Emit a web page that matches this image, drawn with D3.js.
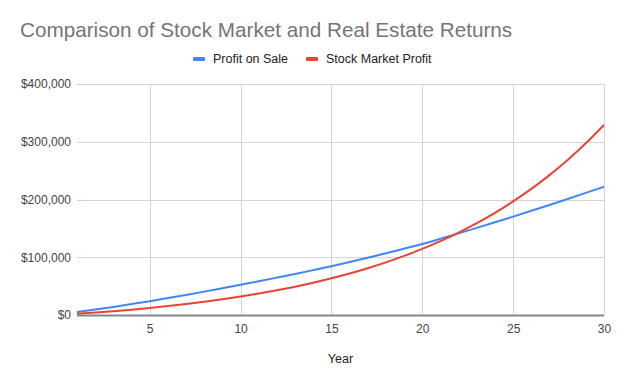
<!doctype html>
<html>
<head>
<meta charset="utf-8"/>
<style>
  html, body { margin: 0; padding: 0; background: #fff; }
  svg { display: block; font-family: "Liberation Sans", Arial, sans-serif; }
  .grid line { stroke: #d4d4d4; stroke-width: 1; shape-rendering: crispEdges; }
  .tick text { fill: #444; font-size: 12px; font-family: "Liberation Sans", Arial, sans-serif; }
</style>
<script src="https://d3js.org/d3.v7.min.js"></script>
</head>
<body>
<svg width="624" height="385"></svg>
<script>
  // years 1..30
  var years = [1,2,3,4,5,6,7,8,9,10,11,12,13,14,15,16,17,18,19,20,21,22,23,24,25,26,27,28,29,30];
  // values
  var profitOnSale = [5000,9400,14000,18900,24000,29300,34800,40500,46300,52300,
                      58400,64700,71100,77700,84500,91700,99200,106900,114800,123000,
                      132000,141300,150800,160500,170400,180400,190600,200900,211400,222000];
  var stockProfit = [2000,4200,6620,9282,12210,15431,18974,22872,27159,31875,
                     37062,42769,49045,55950,63545,71899,81089,91198,102318,114550,
                     128005,142805,159086,176995,196694,218364,242200,268420,297262,328988];
  var xTicks = [5,10,15,20,25,30];
  var yTicks = [0,100000,200000,300000,400000];

  var series = [
    {name: "Profit on Sale", color: "#4285f4", values: profitOnSale},
    {name: "Stock Market Profit", color: "#ea4335", values: stockProfit}
  ];

  var svg = d3.select("svg");
  var plotLeft = 77, plotRight = 604, plotTop = 84, plotBottom = 315;

  var x = d3.scaleLinear().domain([1, 30]).range([plotLeft, plotRight]);
  var y = d3.scaleLinear().domain([0, 400000]).range([plotBottom, plotTop]);

  // title
  svg.append("text")
      .attr("x", 20).attr("y", 36.5)
      .attr("fill", "#757575")
      .attr("font-size", "20.7px")
      .text("Comparison of Stock Market and Real Estate Returns");

  // legend
  var legendPos = [193, 306];
  series.forEach(function(s, i) {
    var lg = svg.append("g").attr("transform", "translate(" + legendPos[i] + ",59)");
    lg.append("rect").attr("x", 0).attr("y", -2).attr("width", 12).attr("height", 4)
        .attr("rx", 1).attr("fill", s.color);
    lg.append("text").attr("x", 20).attr("y", 4.3)
        .attr("font-size", "12.5px").attr("fill", "#222").text(s.name);
  });

  // horizontal gridlines
  svg.append("g").attr("class", "grid")
    .selectAll("line").data(yTicks.slice(1)).enter().append("line")
      .attr("x1", plotLeft).attr("x2", plotRight)
      .attr("y1", function(d) { return Math.round(y(d)) + 0.5; })
      .attr("y2", function(d) { return Math.round(y(d)) + 0.5; });

  // vertical gridlines
  svg.append("g").attr("class", "grid")
    .selectAll("line").data(xTicks).enter().append("line")
      .attr("x1", function(d) { return Math.round(x(d)) + 0.5; })
      .attr("x2", function(d) { return Math.round(x(d)) + 0.5; })
      .attr("y1", plotTop).attr("y2", plotBottom);

  // y axis labels
  var yAxis = d3.axisLeft(y).tickValues(yTicks).tickSize(0).tickPadding(6)
      .tickFormat(function(d) { return "$" + d3.format(",")(d); });
  svg.append("g").attr("transform", "translate(" + plotLeft + ",0)").call(yAxis)
     .call(function(g) { g.select(".domain").remove(); });

  // x axis labels
  var xAxis = d3.axisBottom(x).tickValues(xTicks).tickSize(0).tickPadding(9);
  svg.append("g").attr("transform", "translate(0," + plotBottom + ")").call(xAxis)
     .call(function(g) { g.select(".domain").remove(); });

  // lines
  var line = d3.line()
      .x(function(d, i) { return x(years[i]); })
      .y(function(d) { return y(d); })
      .curve(d3.curveMonotoneX);

  series.forEach(function(s) {
    svg.append("path")
        .datum(s.values)
        .attr("fill", "none")
        .attr("stroke", s.color)
        .attr("stroke-width", 2)
        .attr("d", line);
  });

  // baseline
  svg.append("line")
      .attr("x1", plotLeft).attr("x2", plotRight)
      .attr("y1", plotBottom + 0.5).attr("y2", plotBottom + 0.5)
      .attr("stroke", "#858585").attr("stroke-width", 2);

  // x axis title
  svg.append("text")
      .attr("x", (plotLeft + plotRight) / 2).attr("y", 363)
      .attr("text-anchor", "middle")
      .attr("font-size", "12.5px").attr("fill", "#222")
      .text("Year");
</script>
</body>
</html>
